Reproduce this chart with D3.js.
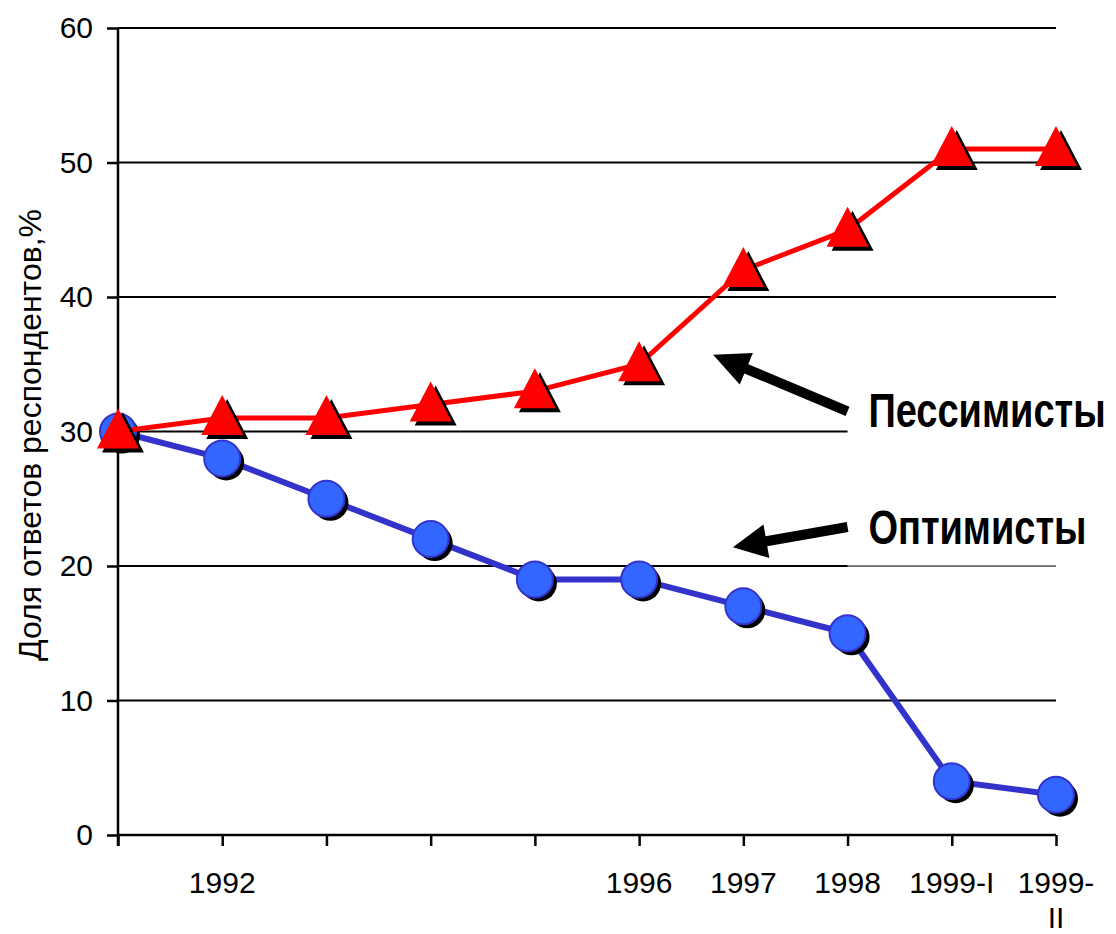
<!DOCTYPE html>
<html>
<head>
<meta charset="utf-8">
<script src="https://cdn.jsdelivr.net/npm/d3@7"></script>
<style>
 body { margin: 0; background: #fff; }
 text { font-family: "Liberation Sans", Arial, sans-serif; }
</style>
</head>
<body>
<svg id="chart" width="1116" height="934"></svg>
<script>
var categories = ["", "1992", "", "", "", "1996", "1997", "1998", "1999-I", "1999-II"];
var pessimists = [30, 31, 31, 32, 33, 35, 42, 45, 51, 51];
var optimists = [30, 28, 25, 22, 19, 19, 17, 15, 4, 3];
var yTicks = [0, 10, 20, 30, 40, 50, 60];

var svg = d3.select("#chart");
var pLeft = 118, pRight = 1056, pTop = 28, pBottom = 835;

var x = d3.scaleLinear().domain([0, categories.length - 1]).range([pLeft, pRight]);
var y = d3.scaleLinear().domain([0, 60]).range([pBottom, pTop]);

// grid
svg.append("g").selectAll("line")
   .data(yTicks.filter(function(d) { return d > 0; }))
   .enter().append("line")
   .attr("x1", pLeft).attr("x2", pRight)
   .attr("y1", function(d) { return y(d); })
   .attr("y2", function(d) { return y(d); })
   .attr("stroke", "#000").attr("stroke-width", 2);

// y axis
var yAxis = svg.append("g")
   .attr("transform", "translate(" + pLeft + ",0)")
   .call(d3.axisLeft(y).tickValues(yTicks).tickSize(11).tickPadding(14));
yAxis.select(".domain").attr("stroke-width", 2.5).attr("d", "M0," + pTop + "V" + (pBottom + 11));
yAxis.selectAll(".tick line").attr("stroke-width", 2.5);
yAxis.selectAll("text").attr("font-size", "30px").attr("fill", "#000")
   .style("font-family", "Liberation Sans, Arial, sans-serif");

// x axis
var xAxis = svg.append("g")
   .attr("transform", "translate(0," + pBottom + ")")
   .call(d3.axisBottom(x).tickValues(d3.range(categories.length)).tickSize(11).tickFormat(""));
xAxis.select(".domain").attr("stroke-width", 2.5).attr("d", "M" + pLeft + ",0H" + pRight);
xAxis.selectAll(".tick line").attr("stroke-width", 2.5);

svg.append("g").selectAll("text")
   .data(categories)
   .enter().append("text")
   .attr("x", function(d, i) { return x(i); })
   .attr("y", pBottom + 58)
   .attr("text-anchor", "middle")
   .attr("font-size", "30px")
   .each(function(d) {
      var parts = d === "1999-II" ? ["1999-", "II"] : [d];
      var t = d3.select(this);
      parts.forEach(function(p, k) {
         t.append("tspan").attr("x", t.attr("x")).attr("dy", k ? 35 : 0).text(p);
      });
   });

// y title
svg.append("text")
   .attr("transform", "translate(41,435) rotate(-90)")
   .attr("text-anchor", "middle")
   .attr("font-size", "32px")
   .text("Доля ответов респондентов,%");

// label boxes hide grid under the labels
svg.append("rect").attr("x", x(7.0)).attr("y", y(31.5)).attr("width", 1116 - x(7.0)).attr("height", y(29.6) - y(31.5)).attr("fill", "#fff");
svg.append("rect").attr("x", x(7.0)).attr("y", y(21.5)).attr("width", 1116 - x(7.0)).attr("height", y(20.05) - y(21.5)).attr("fill", "#fff");
svg.append("line").attr("x1", x(7.0)).attr("x2", pRight).attr("y1", y(20)).attr("y2", y(20))
   .attr("stroke", "#999").attr("stroke-width", 1.5);

function drawSeries(data, color, lineW, marker) {
   var line = d3.line().x(function(d, i) { return x(i); }).y(function(d) { return y(d); });
   svg.append("path").datum(data).attr("d", line)
      .attr("fill", "none").attr("stroke", color).attr("stroke-width", lineW);
   var g = svg.append("g");
   data.forEach(function(d, i) {
      marker(g, x(i), y(d));
   });
}

function circle(g, cx, cy) {
   g.append("circle").attr("cx", cx + 4).attr("cy", cy + 4).attr("r", 18).attr("fill", "#000");
   g.append("circle").attr("cx", cx).attr("cy", cy).attr("r", 18)
      .attr("fill", "#3366ff").attr("stroke", "#3333cc").attr("stroke-width", 2);
}
function triangle(g, cx, cy) {
   var tri = function(dx, dy) {
      return "M" + (cx + dx) + "," + (cy + dy - 23) + "L" + (cx + dx + 21) + "," + (cy + dy + 17) + "L" + (cx + dx - 21) + "," + (cy + dy + 17) + "Z";
   };
   g.append("path").attr("d", tri(5, 4)).attr("fill", "#000");
   g.append("path").attr("d", tri(0, 0)).attr("fill", "#ff0000");
}

drawSeries(optimists, "#3333cc", 6, circle);
drawSeries(pessimists, "#ff0000", 5, triangle);

// annotation arrows
function arrow(tail, tip, shaft, headLen, headW) {
   var x1 = x(tail[0]), y1 = y(tail[1]), x2 = x(tip[0]), y2 = y(tip[1]);
   var dx = x2 - x1, dy = y2 - y1, L = Math.sqrt(dx * dx + dy * dy);
   var ux = dx / L, uy = dy / L, nx = -uy, ny = ux;
   var bx = x2 - ux * headLen, by = y2 - uy * headLen;
   var pts = [
      [x1 + nx * shaft / 2, y1 + ny * shaft / 2],
      [bx + nx * shaft / 2, by + ny * shaft / 2],
      [bx + nx * headW / 2, by + ny * headW / 2],
      [x2, y2],
      [bx - nx * headW / 2, by - ny * headW / 2],
      [bx - nx * shaft / 2, by - ny * shaft / 2],
      [x1 - nx * shaft / 2, y1 - ny * shaft / 2]
   ];
   svg.append("path").attr("d", "M" + pts.join("L") + "Z").attr("fill", "#000");
}
arrow([7.0, 31.5], [5.71, 35.7], 10, 36, 34);
arrow([7.0, 22.9], [5.90, 21.4], 10, 34, 34);

// labels: narrow look by stretching vertically
function label(txt, yv) {
   svg.append("text")
      .attr("transform", "translate(" + x(7.2) + "," + y(yv) + ") scale(1,1.25)")
      .attr("font-size", "38px").attr("font-weight", "bold")
      .text(txt);
}
label("Пессимисты", 30.3);
label("Оптимисты", 21.6);
</script>
</body>
</html>
